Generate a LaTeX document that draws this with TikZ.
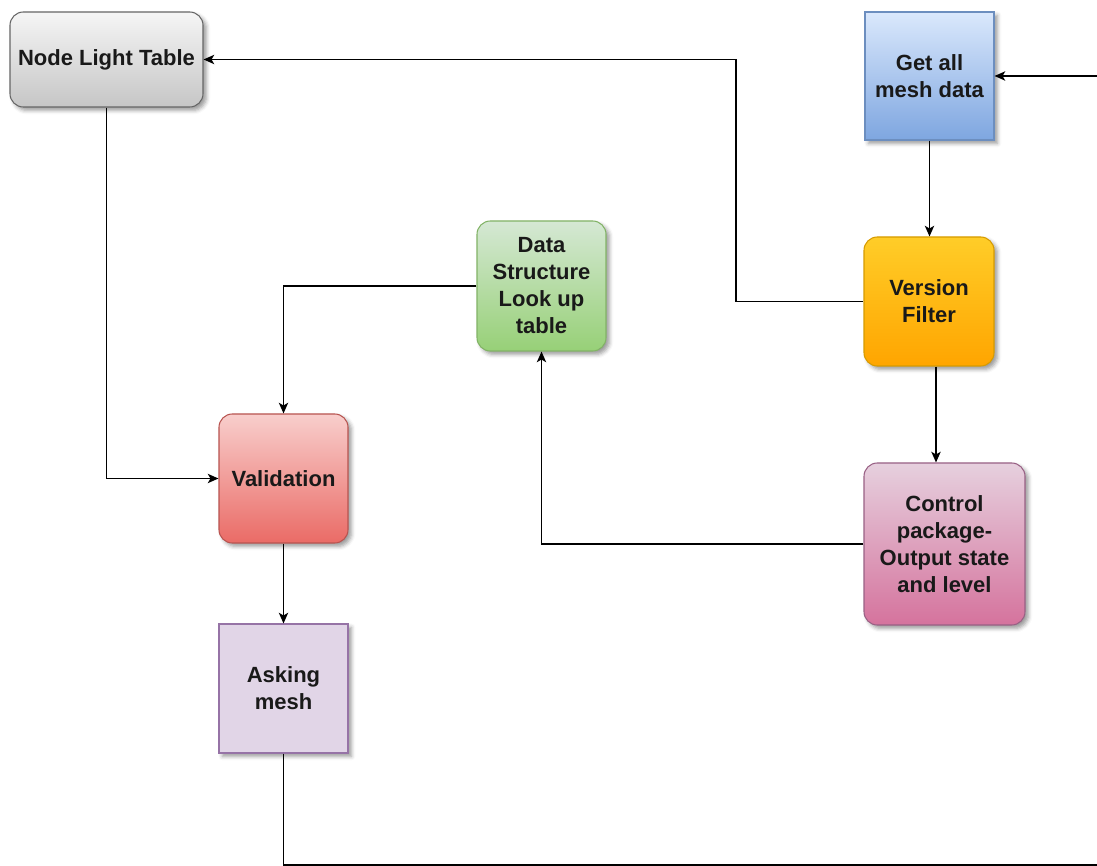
\documentclass[tikz,border=0pt]{standalone}
\usepackage{fontspec}
\setmainfont{Liberation Sans}
\usetikzlibrary{arrows.meta,shadows.blur}

\definecolor{grayTop}{HTML}{F5F5F5}\definecolor{grayBot}{HTML}{C6C6C6}\definecolor{grayLine}{HTML}{666666}
\definecolor{blueTop}{HTML}{DAE8FC}\definecolor{blueBot}{HTML}{7EA6E0}\definecolor{blueLine}{HTML}{6C8EBF}
\definecolor{orgTop}{HTML}{FFCD28}\definecolor{orgBot}{HTML}{FFA500}\definecolor{orgLine}{HTML}{D79B00}
\definecolor{grnTop}{HTML}{D5E8D4}\definecolor{grnBot}{HTML}{97D077}\definecolor{grnLine}{HTML}{82B366}
\definecolor{redTop}{HTML}{F8CECC}\definecolor{redBot}{HTML}{EA6B66}\definecolor{redLine}{HTML}{B85450}
\definecolor{pnkTop}{HTML}{E6D0DE}\definecolor{pnkBot}{HTML}{D5739D}\definecolor{pnkLine}{HTML}{996185}
\definecolor{prpFill}{HTML}{E1D5E7}\definecolor{prpLine}{HTML}{9673A6}

\tikzset{
  box/.style={draw, line width=0.8pt, align=center, inner sep=0pt,
    font=\bfseries\fontsize{16.5}{20.25}\selectfont, text=black!90,
    blur shadow={shadow xshift=2.5pt, shadow yshift=-2.5pt,
                 shadow blur radius=3pt, shadow opacity=40}},
  rbox/.style={box, rounded corners=10pt},
  flow/.style={draw=black, line width=1.1pt,
    -{Stealth[length=8pt,width=7pt,inset=2pt]}},
}

\begin{document}
\begin{tikzpicture}[x=0.75pt, y=-0.75pt]
\useasboundingbox (0,0) rectangle (1097,866);

% process boxes
\node[rbox, minimum width=193*0.75pt, minimum height=95*0.75pt,
      top color=grayTop, bottom color=grayBot, draw=grayLine]
      (nlt) at (106.5,59.5) {Node Light Table};
\node[box, minimum width=129*0.75pt, minimum height=128*0.75pt,
      top color=blueTop, bottom color=blueBot, draw=blueLine]
      (gmd) at (929.5,76) {Get all\\mesh data};
\node[rbox, minimum width=130*0.75pt, minimum height=129*0.75pt,
      top color=orgTop, bottom color=orgBot, draw=orgLine]
      (vf) at (929,301.5) {Version\\Filter};
\node[rbox, minimum width=129*0.75pt, minimum height=130*0.75pt,
      top color=grnTop, bottom color=grnBot, draw=grnLine]
      (ds) at (541.5,286) {Data\\Structure\\Look up\\table};
\node[rbox, minimum width=129*0.75pt, minimum height=129*0.75pt,
      top color=redTop, bottom color=redBot, draw=redLine]
      (val) at (283.5,478.5) {Validation};
\node[rbox, minimum width=161*0.75pt, minimum height=162*0.75pt,
      top color=pnkTop, bottom color=pnkBot, draw=pnkLine]
      (cp) at (944.5,544) {Control\\package-\\Output state\\and level};
\node[box, minimum width=129*0.75pt, minimum height=129*0.75pt,
      fill=prpFill, draw=prpLine]
      (am) at (283.5,688.5) {Asking\\mesh};

% loop-back route along the bottom and right edges
\coordinate (loopA) at (283.5,865);
\coordinate (loopB) at (1120,865);

% connectors
\draw[flow] (vf.west) -- (736,301.5) |- (nlt.east);
\draw[flow] (gmd.south) -- (gmd.south |- vf.north);
\draw[flow] ([xshift=5.25pt]vf.south) -- ([xshift=5.25pt]vf.south |- cp.north);
\draw[flow] (cp.west) -| (ds.south);
\draw[flow] (ds.west) -| (val.north);
\draw[flow] (nlt.south) |- (val.west);
\draw[flow] (val.south) -- (am.north);
\draw[flow] (am.south) -- (loopA) -- (loopB) |- (gmd.east);
\end{tikzpicture}
\end{document}
